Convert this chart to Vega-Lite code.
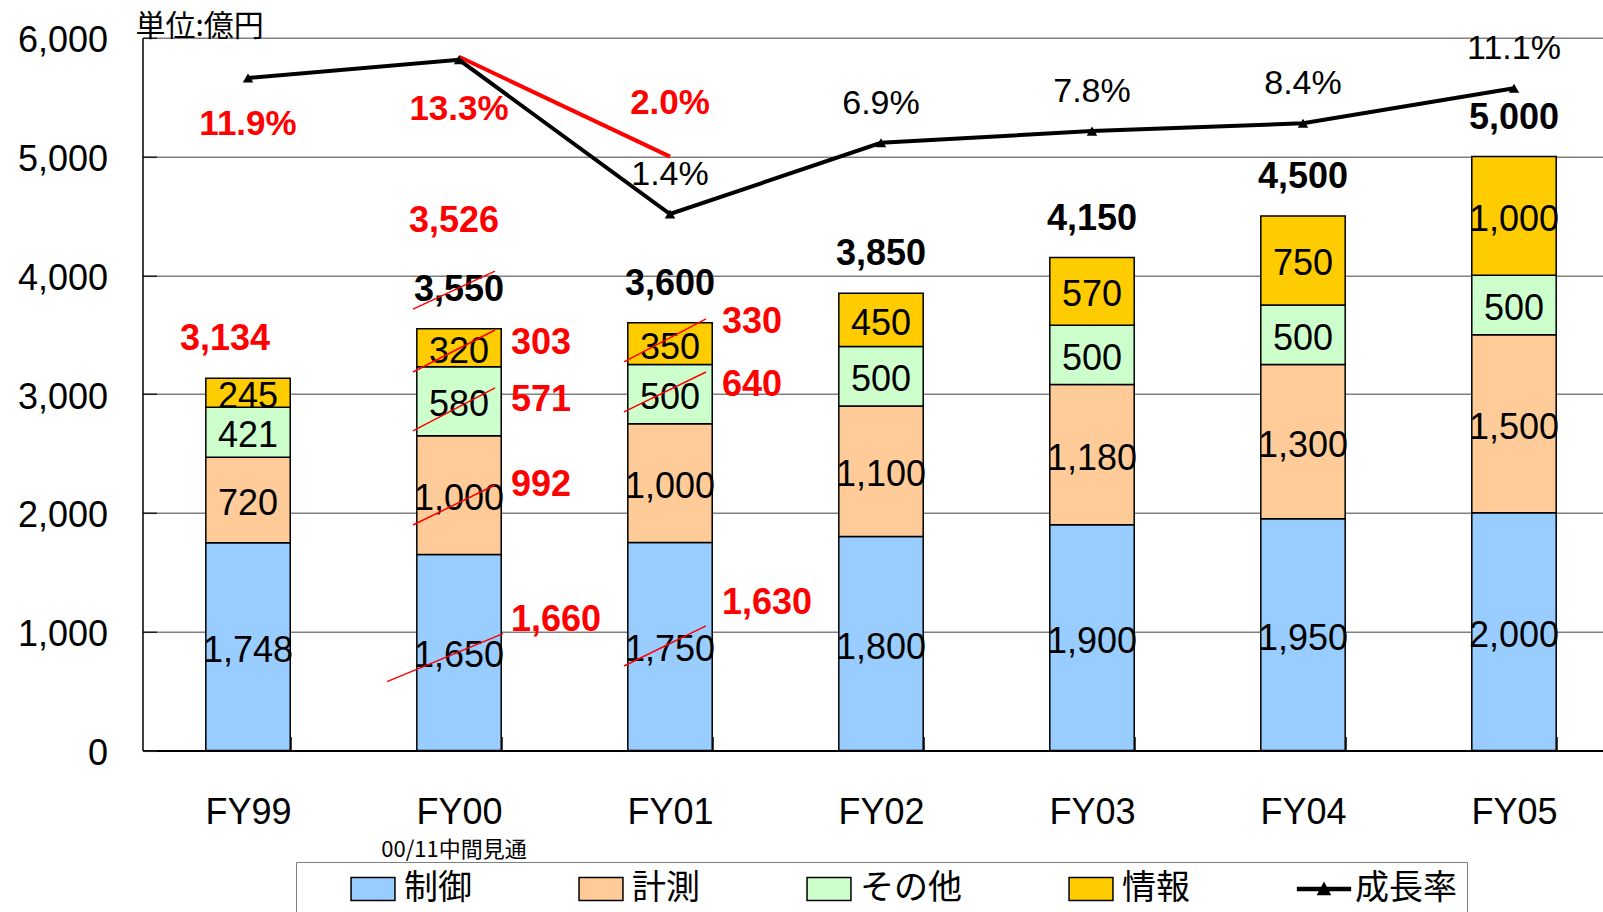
{
  "$schema": "https://vega.github.io/schema/vega-lite/v6.json",
  "width": 1460.5,
  "height": 712.6,
  "autosize": {"type": "none"},
  "padding": {"left": 142.5, "top": 37.8, "right": 0, "bottom": 161.6},
  "background": "white",
  "title": {"text": "単位:億円", "anchor": "start", "frame": "group", "font": "Noto Sans CJK JP", "fontSize": 30, "fontWeight": "normal", "color": "black", "offset": 0, "dx": -7, "dy": 19},
  "config": {
    "view": {"stroke": null},
    "font": "Liberation Sans",
    "axisX": {"labelFont": "Liberation Sans", "labelFontSize": 36, "labelColor": "black", "labelPadding": 59, "ticks": true, "tickBand": "extent", "tickSize": -14, "tickColor": "black", "tickWidth": 1.5, "domainColor": "black", "domainWidth": 2, "labelAngle": 0, "grid": false},
    "axisY": {"labelFont": "Liberation Sans", "labelFontSize": 36, "labelColor": "black", "labelPadding": 49, "ticks": true, "tickSize": -14, "tickColor": "#222222", "tickWidth": 1.5, "domainColor": "black", "domainWidth": 1.5, "grid": true, "gridColor": "#808080", "gridWidth": 1.5, "labelOffset": 3, "format": ",d"}
  },
  "datasets": {
    "bars": [
      {"fy": "FY99", "cat": "制御", "k": 1, "value": 1748},
      {"fy": "FY99", "cat": "計測", "k": 2, "value": 720},
      {"fy": "FY99", "cat": "その他", "k": 3, "value": 421},
      {"fy": "FY99", "cat": "情報", "k": 4, "value": 245},
      {"fy": "FY00", "cat": "制御", "k": 1, "value": 1650},
      {"fy": "FY00", "cat": "計測", "k": 2, "value": 1000},
      {"fy": "FY00", "cat": "その他", "k": 3, "value": 580},
      {"fy": "FY00", "cat": "情報", "k": 4, "value": 320},
      {"fy": "FY01", "cat": "制御", "k": 1, "value": 1750},
      {"fy": "FY01", "cat": "計測", "k": 2, "value": 1000},
      {"fy": "FY01", "cat": "その他", "k": 3, "value": 500},
      {"fy": "FY01", "cat": "情報", "k": 4, "value": 350},
      {"fy": "FY02", "cat": "制御", "k": 1, "value": 1800},
      {"fy": "FY02", "cat": "計測", "k": 2, "value": 1100},
      {"fy": "FY02", "cat": "その他", "k": 3, "value": 500},
      {"fy": "FY02", "cat": "情報", "k": 4, "value": 450},
      {"fy": "FY03", "cat": "制御", "k": 1, "value": 1900},
      {"fy": "FY03", "cat": "計測", "k": 2, "value": 1180},
      {"fy": "FY03", "cat": "その他", "k": 3, "value": 500},
      {"fy": "FY03", "cat": "情報", "k": 4, "value": 570},
      {"fy": "FY04", "cat": "制御", "k": 1, "value": 1950},
      {"fy": "FY04", "cat": "計測", "k": 2, "value": 1300},
      {"fy": "FY04", "cat": "その他", "k": 3, "value": 500},
      {"fy": "FY04", "cat": "情報", "k": 4, "value": 750},
      {"fy": "FY05", "cat": "制御", "k": 1, "value": 2000},
      {"fy": "FY05", "cat": "計測", "k": 2, "value": 1500},
      {"fy": "FY05", "cat": "その他", "k": 3, "value": 500},
      {"fy": "FY05", "cat": "情報", "k": 4, "value": 1000}
    ],
    "rates": [
      {"fy": "FY99", "rate": 0.119},
      {"fy": "FY00", "rate": 0.133},
      {"fy": "FY01", "rate": 0.014},
      {"fy": "FY02", "rate": 0.069},
      {"fy": "FY03", "rate": 0.078},
      {"fy": "FY04", "rate": 0.084},
      {"fy": "FY05", "rate": 0.111}
    ],
    "revLine": [
      {"fy": "FY00", "v": 5840},
      {"fy": "FY01", "v": 5000}
    ],
    "strikes": [
      {"fy": "FY00", "y1": 3716, "y2": 4036},
      {"fy": "FY00", "y1": 3186, "y2": 3540},
      {"fy": "FY00", "y1": 2690, "y2": 3052},
      {"fy": "FY00", "y1": 1898, "y2": 2235},
      {"fy": "FY01", "y1": 3271, "y2": 3633},
      {"fy": "FY01", "y1": 2850, "y2": 3186},
      {"fy": "FY01", "y1": 711, "y2": 1048}
    ],
    "strikeLong": [
      {"fy": "FY00", "y1": 579, "y2": 983}
    ],
    "redRight": [
      {"fy": "FY00", "t": "303", "v": 3430},
      {"fy": "FY00", "t": "571", "v": 2950},
      {"fy": "FY00", "t": "992", "v": 2235},
      {"fy": "FY00", "t": "1,660", "v": 1099},
      {"fy": "FY01", "t": "330", "v": 3607},
      {"fy": "FY01", "t": "640", "v": 3077},
      {"fy": "FY01", "t": "1,630", "v": 1242}
    ],
    "redTotal99": [
      {"fy": "FY99", "t": "3,134", "v": 3464}
    ],
    "redTotal00": [
      {"fy": "FY00", "t": "3,526", "v": 4457}
    ],
    "redPct": [
      {"fy": "FY99", "t": "11.9%", "v": 5274},
      {"fy": "FY00", "t": "13.3%", "v": 5400},
      {"fy": "FY01", "t": "2.0%", "v": 5451}
    ],
    "notes": [
      {"fy": "FY00", "t": "00/11中間見通"}
    ]
  },
  "resolve": {"scale": {"y": "independent"}},
  "layer": [
    {
      "layer": [
        {
          "data": {"name": "bars"},
          "mark": {"type": "bar", "stroke": "black", "strokeWidth": 1.5},
          "encoding": {
            "x": {"field": "fy", "type": "nominal", "sort": ["FY99", "FY00", "FY01", "FY02", "FY03", "FY04", "FY05"], "title": null, "scale": {"paddingInner": 0.6, "paddingOuter": 0.261, "align": 0.575}},
            "y": {"field": "value", "type": "quantitative", "stack": "zero", "title": null, "scale": {"domain": [0, 6000], "nice": false}, "axis": {"values": [0, 1000, 2000, 3000, 4000, 5000, 6000], "format": ",d"}},
            "color": {
              "field": "cat", "type": "nominal",
              "scale": {"domain": ["制御", "計測", "その他", "情報", "成長率"], "range": ["#99CCFF", "#FFCC99", "#CCFFCC", "#FFCC00", "#000000"]}
            },
            "order": {"field": "k", "type": "quantitative"}
          }
        },
        {
          "data": {"name": "bars"},
          "mark": {"type": "point", "filled": true, "opacity": 0, "stroke": "black"},
          "encoding": {
            "x": {"field": "fy", "type": "nominal", "sort": ["FY99", "FY00", "FY01", "FY02", "FY03", "FY04", "FY05"], "title": null},
            "y": {"field": "value", "type": "quantitative", "title": null, "scale": {"domain": [0, 6000], "nice": false}},
            "color": {
              "field": "cat", "type": "nominal",
              "legend": {
                "orient": "none", "legendX": 153.5, "legendY": 824.2, "direction": "horizontal", "columns": 5,
                "title": "　", "titleOrient": "left", "titleFontSize": 10, "titlePadding": 50,
                "padding": 10, "strokeColor": "#808080", "fillColor": "white",
                "symbolSize": 576, "labelOffset": 14, "columnPadding": 104,
                "symbolStrokeColor": "black", "symbolStrokeWidth": 1.5, "symbolOpacity": 1,
                "labelFont": "Noto Sans CJK JP", "labelFontSize": 34, "labelColor": "black"
              }
            },
            "shape": {
              "field": "cat", "type": "nominal",
              "scale": {"domain": ["制御", "計測", "その他", "情報", "成長率"], "range": ["M-1.83,-0.96H1.83V0.96H-1.83Z", "M-1.83,-0.96H1.83V0.96H-1.83Z", "M-1.83,-0.96H1.83V0.96H-1.83Z", "M-1.83,-0.96H1.83V0.96H-1.83Z", "M-2.2,-0.12H2.2V0.12H-2.2ZM-0.5,0.45L0,-0.5L0.5,0.45Z"]}
            }
          }
        },
        {
          "data": {"name": "bars"},
          "mark": {"type": "text", "font": "Liberation Sans", "fontSize": 36, "color": "black", "baseline": "middle", "dy": 4},
          "encoding": {
            "x": {"field": "fy", "type": "nominal", "sort": ["FY99", "FY00", "FY01", "FY02", "FY03", "FY04", "FY05"], "title": null},
            "y": {"field": "value", "type": "quantitative", "stack": "zero", "bandPosition": 0.5, "title": null, "scale": {"domain": [0, 6000], "nice": false}},
            "detail": {"field": "cat", "type": "nominal"},
            "order": {"field": "k", "type": "quantitative"},
            "text": {"field": "value", "type": "quantitative", "format": ","}
          }
        },
        {
          "data": {"name": "bars"},
          "transform": [{"filter": "datum.fy !== 'FY99'"}],
          "mark": {"type": "text", "font": "Liberation Sans", "fontSize": 36, "fontWeight": "bold", "color": "black", "baseline": "middle", "dy": -39},
          "encoding": {
            "x": {"field": "fy", "type": "nominal", "sort": ["FY99", "FY00", "FY01", "FY02", "FY03", "FY04", "FY05"], "title": null},
            "y": {"aggregate": "sum", "field": "value", "type": "quantitative", "title": null, "scale": {"domain": [0, 6000], "nice": false}},
            "text": {"aggregate": "sum", "field": "value", "type": "quantitative", "format": ","}
          }
        },
        {
          "data": {"name": "revLine"},
          "mark": {"type": "line", "color": "#FF0000", "strokeWidth": 4},
          "encoding": {
            "x": {"field": "fy", "type": "nominal", "sort": ["FY99", "FY00", "FY01", "FY02", "FY03", "FY04", "FY05"], "title": null},
            "y": {"field": "v", "type": "quantitative", "title": null, "scale": {"domain": [0, 6000], "nice": false}}
          }
        },
        {
          "data": {"name": "strikes"},
          "mark": {"type": "rule", "color": "#FF0000", "strokeWidth": 1.5, "xOffset": -46, "x2Offset": 36},
          "encoding": {
            "x": {"field": "fy", "type": "nominal", "sort": ["FY99", "FY00", "FY01", "FY02", "FY03", "FY04", "FY05"], "title": null},
            "x2": {"field": "fy"},
            "y": {"field": "y1", "type": "quantitative", "title": null, "scale": {"domain": [0, 6000], "nice": false}},
            "y2": {"field": "y2"}
          }
        },
        {
          "data": {"name": "strikeLong"},
          "mark": {"type": "rule", "color": "#FF0000", "strokeWidth": 1.5, "xOffset": -72, "x2Offset": 44},
          "encoding": {
            "x": {"field": "fy", "type": "nominal", "sort": ["FY99", "FY00", "FY01", "FY02", "FY03", "FY04", "FY05"], "title": null},
            "x2": {"field": "fy"},
            "y": {"field": "y1", "type": "quantitative", "title": null, "scale": {"domain": [0, 6000], "nice": false}},
            "y2": {"field": "y2"}
          }
        },
        {
          "data": {"name": "redRight"},
          "mark": {"type": "text", "font": "Liberation Sans", "fontSize": 36, "fontWeight": "bold", "color": "#FF0000", "align": "left", "baseline": "middle", "dx": 52},
          "encoding": {
            "x": {"field": "fy", "type": "nominal", "sort": ["FY99", "FY00", "FY01", "FY02", "FY03", "FY04", "FY05"], "title": null},
            "y": {"field": "v", "type": "quantitative", "title": null, "scale": {"domain": [0, 6000], "nice": false}},
            "text": {"field": "t", "type": "nominal"}
          }
        },
        {
          "data": {"name": "redTotal99"},
          "mark": {"type": "text", "font": "Liberation Sans", "fontSize": 36, "fontWeight": "bold", "color": "#FF0000", "baseline": "middle", "dx": -23},
          "encoding": {
            "x": {"field": "fy", "type": "nominal", "sort": ["FY99", "FY00", "FY01", "FY02", "FY03", "FY04", "FY05"], "title": null},
            "y": {"field": "v", "type": "quantitative", "title": null, "scale": {"domain": [0, 6000], "nice": false}},
            "text": {"field": "t", "type": "nominal"}
          }
        },
        {
          "data": {"name": "redTotal00"},
          "mark": {"type": "text", "font": "Liberation Sans", "fontSize": 36, "fontWeight": "bold", "color": "#FF0000", "baseline": "middle", "dx": -5},
          "encoding": {
            "x": {"field": "fy", "type": "nominal", "sort": ["FY99", "FY00", "FY01", "FY02", "FY03", "FY04", "FY05"], "title": null},
            "y": {"field": "v", "type": "quantitative", "title": null, "scale": {"domain": [0, 6000], "nice": false}},
            "text": {"field": "t", "type": "nominal"}
          }
        },
        {
          "data": {"name": "redPct"},
          "mark": {"type": "text", "font": "Liberation Sans", "fontSize": 35, "fontWeight": "bold", "color": "#FF0000", "baseline": "middle", "dx": 0},
          "encoding": {
            "x": {"field": "fy", "type": "nominal", "sort": ["FY99", "FY00", "FY01", "FY02", "FY03", "FY04", "FY05"], "title": null},
            "y": {"field": "v", "type": "quantitative", "title": null, "scale": {"domain": [0, 6000], "nice": false}},
            "text": {"field": "t", "type": "nominal"}
          }
        },
        {
          "data": {"name": "notes"},
          "mark": {"type": "text", "font": "Noto Sans CJK JP", "fontSize": 22, "color": "black", "baseline": "middle", "dx": -5, "dy": 100},
          "encoding": {
            "x": {"field": "fy", "type": "nominal", "sort": ["FY99", "FY00", "FY01", "FY02", "FY03", "FY04", "FY05"], "title": null},
            "y": {"datum": 0, "type": "quantitative", "title": null, "scale": {"domain": [0, 6000], "nice": false}},
            "text": {"field": "t", "type": "nominal"}
          }
        }
      ]
    },
    {
      "layer": [
        {
          "data": {"name": "rates"},
          "mark": {"type": "line", "color": "black", "strokeWidth": 4, "point": {"shape": "triangle-up", "size": 110, "filled": true, "color": "black"}},
          "encoding": {
            "x": {"field": "fy", "type": "nominal", "sort": ["FY99", "FY00", "FY01", "FY02", "FY03", "FY04", "FY05"], "title": null},
            "y": {"field": "rate", "type": "quantitative", "title": null, "scale": {"domain": [-0.4, 0.15], "nice": false, "zero": false}, "axis": null}
          }
        },
        {
          "data": {"name": "rates"},
          "transform": [{"filter": {"field": "fy", "oneOf": ["FY01", "FY02", "FY03", "FY04", "FY05"]}}],
          "mark": {"type": "text", "font": "Liberation Sans", "fontSize": 34, "color": "black", "baseline": "middle", "dy": -39},
          "encoding": {
            "x": {"field": "fy", "type": "nominal", "sort": ["FY99", "FY00", "FY01", "FY02", "FY03", "FY04", "FY05"], "title": null},
            "y": {"field": "rate", "type": "quantitative", "title": null, "scale": {"domain": [-0.4, 0.15], "nice": false, "zero": false}, "axis": null},
            "text": {"field": "rate", "type": "quantitative", "format": ".1%"}
          }
        }
      ]
    }
  ]
}
